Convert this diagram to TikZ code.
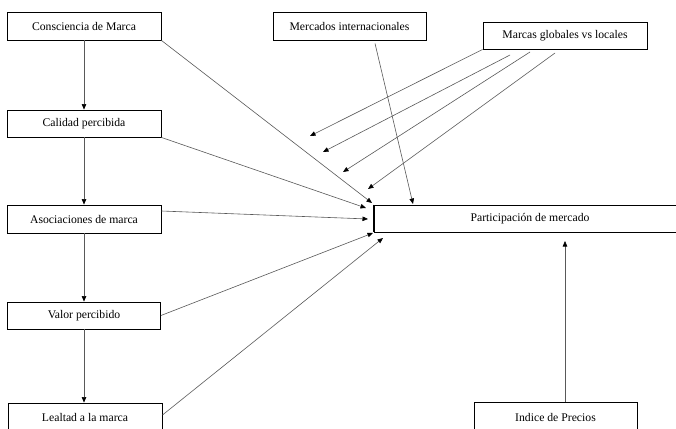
\documentclass[tikz,border=0pt]{standalone}
\usepackage{fontspec}
\setmainfont{Liberation Serif}
\usetikzlibrary{arrows.meta}
\begin{document}
\begin{tikzpicture}[x=1pt,y=-1pt,
  box/.style={draw=black,line width=0.9pt,minimum width=#1,minimum height=28pt,inner sep=0pt,font=\fontsize{11.7}{13}\selectfont},
  box/.default=154pt,
  conn/.style={draw=black!65,line width=0.6pt,-{Triangle[length=5.5pt,width=4.5pt,color=black]}}]
\useasboundingbox (0,0) rectangle (676,428);
\clip (0,0) rectangle (676,428);
\fill[white] (0,0) rectangle (676,428);
% left column
\node[box=154pt] (cons) at (84,26) {Consciencia de Marca};
\node[box=154pt,minimum height=27pt] (cal) at (84,123.5) {Calidad percibida};
\node[box=154pt] (aso) at (84,219) {Asociaciones de marca};
\node[box=153pt,minimum height=27pt] (val) at (84,315.5) {Valor percibido};
\node[box=154pt] (leal) at (85,417) {Lealtad a la marca};
% top
\node[box=153pt] (merc) at (349.5,26) {Mercados internacionales};
\node[box=164pt,minimum height=27pt] (marc) at (565,35.5) {Marcas globales vs locales};
% centre
\node[box=312pt,minimum height=27pt] (part) at (530,218.5) {Participación de mercado};
\draw[line width=1.3pt] (part.north west) -- (part.south west);
\node[box=163pt,minimum height=30pt] (ind) at (555.5,417) {Indice de Precios};
% vertical chain
\draw[conn] (cons.south) -- (cal.north);
\draw[conn] (cal.south) -- (aso.north);
\draw[conn] (aso.south) -- (val.north);
\draw[conn] (val.south) -- (leal.north -| val.south);
% end coordinates
\coordinate (pA) at (372,203);
\coordinate (pB) at (366,208);
\coordinate (pC) at (368,219);
\coordinate (pD) at (373,233);
\coordinate (pE) at (383,238);
\coordinate (pF) at (413,204);
\coordinate (pG) at (565,241);
\coordinate (mA) at (310,136);
\coordinate (mB) at (323,152);
\coordinate (mC) at (343,172);
\coordinate (mD) at (368,189);
% starts on Marcas
\coordinate (sB) at (510,55);
\coordinate (sC) at (530,52);
\coordinate (sD) at (555,53);
% converging arrows
\draw[conn] (cons.south east) -- (pA);
\draw[conn] (cal.south east) -- (pB);
\draw[conn] ([yshift=8pt]aso.east) -- (pC);
\draw[conn] (val.east) -- (pD);
\draw[conn] ([yshift=2pt]leal.east) -- (pE);
\draw[conn] ([xshift=25.5pt,yshift=-3pt]merc.south) -- (pF);
\draw[conn] (marc.south west) -- (mA);
\draw[conn] (sB) -- (mB);
\draw[conn] (sC) -- (mC);
\draw[conn] (sD) -- (mD);
\draw[conn] (ind.north -| pG) -- (pG);
\end{tikzpicture}
\end{document}
